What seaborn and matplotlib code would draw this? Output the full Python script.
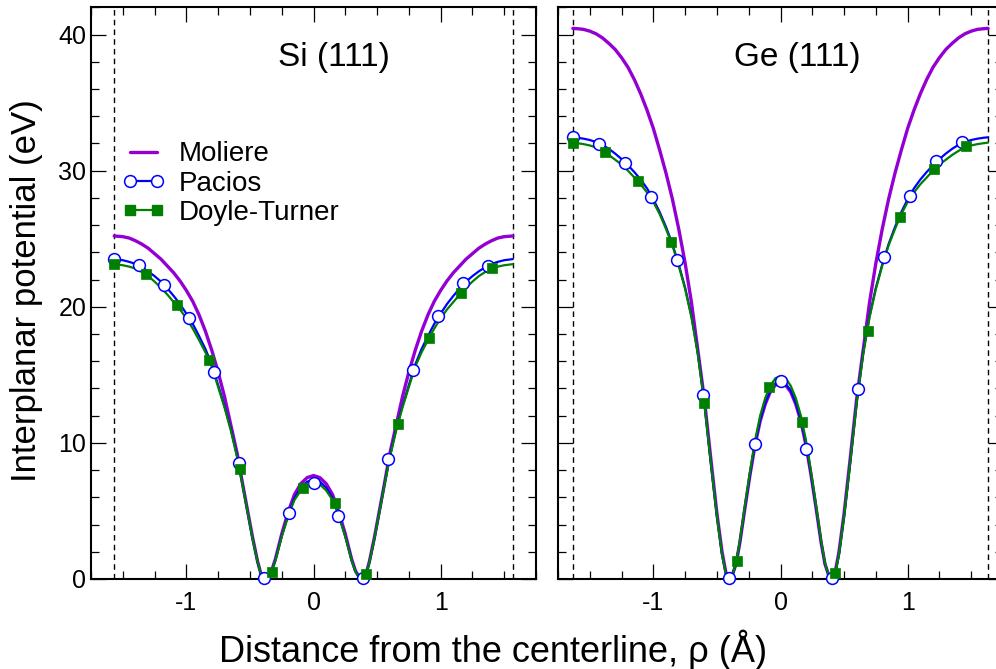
import seaborn as sns
import matplotlib.pyplot as plt
from matplotlib.lines import Line2D
from matplotlib.ticker import MultipleLocator

sns.set_theme(style="ticks")
plt.rcParams['font.family'] = ['Liberation Sans', 'DejaVu Sans']
plt.rcParams['axes.unicode_minus'] = False
for k in ['axes.edgecolor', 'xtick.color', 'ytick.color', 'text.color', 'axes.labelcolor']:
    plt.rcParams[k] = 'black'

PURPLE = '#9400d3'
BLUE = '#0000ff'
GREEN = '#008000'

# ---- Si (111) ----
si_x = [-1.5675, -1.5, -1.45, -1.4, -1.35, -1.3, -1.25, -1.2, -1.15, -1.1, -1.05, -1.0,
        -0.95, -0.9, -0.85, -0.8, -0.75, -0.7, -0.65, -0.6, -0.56, -0.52, -0.48, -0.44,
        -0.41, -0.392, -0.36, -0.33, -0.3, -0.25, -0.2, -0.15, -0.1, -0.05, 0,
        0.05, 0.1, 0.15, 0.2, 0.25, 0.3, 0.33, 0.36, 0.392, 0.41, 0.44, 0.48, 0.52,
        0.56, 0.6, 0.65, 0.7, 0.75, 0.8, 0.85, 0.9, 0.95, 1.0, 1.05, 1.1, 1.15, 1.2,
        1.25, 1.3, 1.35, 1.4, 1.45, 1.5, 1.5675]
si_moliere = [25.2, 25.15, 25.05, 24.85, 24.6, 24.3, 23.9, 23.5, 23.0, 22.5, 21.9, 21.2,
              20.4, 19.4, 18.2, 16.8, 15.2, 13.4, 11.3, 9.2, 7.1, 5.1, 3.1, 1.3,
              0.25, 0, 0.13, 0.6, 1.45, 3.3, 4.9, 6.2, 7.0, 7.45, 7.6,
              7.45, 7.0, 6.2, 4.9, 3.3, 1.45, 0.6, 0.13, 0, 0.25, 1.3, 3.1, 5.1,
              7.1, 9.2, 11.3, 13.4, 15.2, 16.8, 18.2, 19.4, 20.4, 21.2, 21.9, 22.5, 23.0, 23.5,
              23.9, 24.3, 24.6, 24.85, 25.05, 25.15, 25.2]
si_pacios = [23.5, 23.42, 23.3, 23.15, 22.9, 22.6, 22.25, 21.85, 21.35, 20.8, 20.2, 19.5,
             18.75, 17.85, 16.9, 15.75, 14.25, 12.7, 11.0, 9.0, 7.05, 5.0, 3.0, 1.25,
             0.25, 0, 0.12, 0.55, 1.4, 3.15, 4.65, 5.95, 6.7, 7.15, 7.3,
             7.15, 6.7, 5.95, 4.65, 3.15, 1.4, 0.55, 0.12, 0, 0.25, 1.25, 3.0, 5.0,
             7.05, 9.0, 11.0, 12.7, 14.25, 15.75, 16.9, 17.85, 18.75, 19.5, 20.2, 20.8, 21.35, 21.85,
             22.25, 22.6, 22.9, 23.15, 23.3, 23.42, 23.5]
si_doyle = [23.13, 23.05, 22.95, 22.8, 22.55, 22.25, 21.85, 21.4, 20.9, 20.35, 19.8, 19.15,
            18.4, 17.55, 16.65, 15.6, 14.1, 12.6, 10.9, 8.9, 7.0, 5.0, 3.0, 1.25,
            0.25, 0, 0.12, 0.55, 1.35, 3.1, 4.6, 5.8, 6.5, 6.95, 7.1,
            6.95, 6.5, 5.8, 4.6, 3.1, 1.35, 0.55, 0.12, 0, 0.25, 1.25, 3.0, 5.0,
            7.0, 8.9, 10.9, 12.6, 14.1, 15.6, 16.65, 17.55, 18.4, 19.15, 19.8, 20.35, 20.9, 21.4,
            21.85, 22.25, 22.55, 22.8, 22.95, 23.05, 23.13]
si_pac_mx = [-1.5675, -1.371, -1.176, -0.98, -0.784, -0.588, -0.392, -0.196, 0,
             0.196, 0.392, 0.588, 0.784, 0.98, 1.176, 1.371]
si_pac_my = [23.5, 23.05, 21.6, 19.14, 15.22, 8.49, 0.05, 4.82, 7.07,
             4.63, 0.05, 8.79, 15.35, 19.31, 21.71, 23.0]
si_dt_mx = [-1.5675, -1.318, -1.073, -0.824, -0.579, -0.329, -0.081, 0.17, 0.415,
            0.663, 0.912, 1.163, 1.4]
si_dt_my = [23.13, 22.39, 20.12, 16.08, 8.08, 0.54, 6.7, 5.56, 0.37,
            11.38, 17.67, 21.02, 22.83]

# ---- Ge (111) ----
ge_x = [-1.633, -1.6, -1.55, -1.5, -1.45, -1.4, -1.35, -1.3, -1.25, -1.2, -1.15, -1.1,
        -1.05, -1.0, -0.95, -0.9, -0.85, -0.8, -0.75, -0.7, -0.65, -0.6, -0.55, -0.5,
        -0.46, -0.43, -0.408, -0.38, -0.35, -0.32, -0.28, -0.24, -0.2, -0.16, -0.12, -0.08,
        -0.04, 0, 0.04, 0.08, 0.12, 0.16, 0.2, 0.24, 0.28, 0.32, 0.35, 0.38, 0.408,
        0.43, 0.46, 0.5, 0.55, 0.6, 0.65, 0.7, 0.75, 0.8, 0.85, 0.9, 0.95, 1.0, 1.05,
        1.1, 1.15, 1.2, 1.25, 1.3, 1.35, 1.4, 1.45, 1.5, 1.55, 1.6, 1.633]
ge_moliere = [40.45, 40.43, 40.38, 40.25, 40.05, 39.75, 39.35, 38.9, 38.3, 37.6, 36.7, 35.65,
              34.45, 33.1, 31.5, 29.8, 27.9, 25.7, 23.2, 20.3, 16.8, 13.3, 9.0, 4.8,
              2.0, 0.5, 0, 0.25, 1.1, 2.65, 5.2, 7.65, 9.85, 11.6, 12.85, 13.75,
              14.25, 14.4, 14.25, 13.75, 12.85, 11.6, 9.85, 7.65, 5.2, 2.65, 1.1, 0.25, 0,
              0.5, 2.0, 4.8, 9.0, 13.3, 16.8, 20.3, 23.2, 25.7, 27.9, 29.8, 31.5, 33.1, 34.45,
              35.65, 36.7, 37.6, 38.3, 38.9, 39.35, 39.75, 40.05, 40.25, 40.38, 40.43, 40.45]
ge_pacios = [32.45, 32.42, 32.35, 32.25, 32.1, 31.9, 31.6, 31.25, 30.85, 30.4, 29.9, 29.35,
             28.7, 27.9, 26.95, 25.85, 24.6, 23.1, 21.4, 19.3, 16.6, 13.1, 8.7, 4.6,
             1.8, 0.4, 0, 0.25, 1.1, 2.7, 5.25, 7.7, 9.95, 11.7, 12.95, 13.85,
             14.35, 14.5, 14.35, 13.85, 12.95, 11.7, 9.95, 7.7, 5.25, 2.7, 1.1, 0.25, 0,
             0.4, 1.8, 4.6, 8.7, 13.1, 16.6, 19.3, 21.4, 23.1, 24.6, 25.85, 26.95, 27.9, 28.7,
             29.35, 29.9, 30.4, 30.85, 31.25, 31.6, 31.9, 32.1, 32.25, 32.35, 32.42, 32.45]
ge_doyle = [32.06, 32.02, 31.95, 31.85, 31.7, 31.45, 31.15, 30.8, 30.45, 30.0, 29.5, 29.0,
            28.4, 27.7, 26.8, 25.7, 24.5, 23.0, 21.3, 19.2, 16.5, 13.0, 8.7, 4.6,
            1.8, 0.4, 0, 0.25, 1.15, 2.8, 5.4, 7.9, 10.2, 12.0, 13.3, 14.2,
            14.75, 14.9, 14.75, 14.2, 13.3, 12.0, 10.2, 7.9, 5.4, 2.8, 1.15, 0.25, 0,
            0.4, 1.8, 4.6, 8.7, 13.0, 16.5, 19.2, 21.3, 23.0, 24.5, 25.7, 26.8, 27.7, 28.4,
            29.0, 29.5, 30.0, 30.45, 30.8, 31.15, 31.45, 31.7, 31.85, 31.95, 32.02, 32.06]
ge_pac_mx = [-1.633, -1.429, -1.225, -1.021, -0.817, -0.612, -0.408, -0.204, 0,
             0.204, 0.408, 0.612, 0.817, 1.021, 1.225, 1.429]
ge_pac_my = [32.48, 31.99, 30.59, 28.07, 23.42, 13.51, 0.05, 9.91, 14.54,
             9.54, 0.05, 13.95, 23.62, 28.14, 30.69, 32.1]
ge_dt_mx = [-1.635, -1.378, -1.12, -0.861, -0.604, -0.346, -0.087, 0.171, 0.428,
            0.688, 0.943, 1.207, 1.457]
ge_dt_my = [32.06, 31.37, 29.22, 24.77, 12.95, 1.32, 14.07, 11.5, 0.42,
            18.21, 26.56, 30.1, 31.79]

labels = ['Moliere', 'Pacios', 'Doyle-Turner']


def panel(ax, x, mol, pac, dt, pmx, pmy, dmx, dmy, edge, title, tx):
    sns.lineplot(x=x, y=mol, ax=ax, color=PURPLE, lw=2.4, sort=False, estimator=None)
    sns.lineplot(x=x, y=pac, ax=ax, color=BLUE, lw=1.6, sort=False, estimator=None)
    sns.lineplot(x=x, y=dt, ax=ax, color=GREEN, lw=1.6, sort=False, estimator=None)
    sns.scatterplot(x=pmx, y=pmy, ax=ax, marker='o', s=72, color='white',
                    edgecolor=BLUE, linewidth=1.1, zorder=4, clip_on=False)
    sns.scatterplot(x=dmx, y=dmy, ax=ax, marker='s', s=60, color=GREEN,
                    edgecolor=GREEN, linewidth=0.5, zorder=5, clip_on=False)
    for e in (-edge, edge):
        ax.axvline(e, color='black', ls=(0, (4, 3)), lw=1.0, zorder=1)
    ax.text(tx, 38.3, title, ha='center', va='center', fontsize=24)
    ax.set_xlim(-1.75, 1.75)
    ax.set_ylim(0, 42)
    ax.xaxis.set_major_locator(MultipleLocator(1))
    ax.xaxis.set_minor_locator(MultipleLocator(0.25))
    ax.yaxis.set_major_locator(MultipleLocator(10))
    ax.yaxis.set_minor_locator(MultipleLocator(2))
    ax.tick_params(which='both', direction='in', top=True, right=True,
                   width=0.9, labelsize=18)
    ax.tick_params(which='major', length=11)
    ax.tick_params(which='minor', length=5.5)
    ax.tick_params(axis='x', pad=9)
    for s in ax.spines.values():
        s.set_linewidth(1.5)
    ax.set_xlabel('')
    ax.set_ylabel('')


fig = plt.figure(figsize=(9.96, 6.69), dpi=100)
ax1 = fig.add_axes([91 / 996, 90 / 669, 445 / 996, 571.7 / 669])
ax2 = fig.add_axes([558 / 996, 90 / 669, 445 / 996, 571.7 / 669])

panel(ax1, si_x, si_moliere, si_pacios, si_doyle, si_pac_mx, si_pac_my,
      si_dt_mx, si_dt_my, 1.5675, 'Si (111)', 0.16)
panel(ax2, ge_x, ge_moliere, ge_pacios, ge_doyle, ge_pac_mx, ge_pac_my,
      ge_dt_mx, ge_dt_my, 1.633, 'Ge (111)', 0.134)
ax2.tick_params(labelleft=False)

handles = [
    Line2D([], [], color=PURPLE, lw=2.4),
    Line2D([], [], color=BLUE, lw=1.6, marker='o', ms=8.5, mfc='white', mec=BLUE, mew=1.1),
    Line2D([], [], color=GREEN, lw=1.6, marker='s', ms=7.7),
]
ax1.legend(handles, labels, loc='upper left', bbox_to_anchor=(0.045, 0.785),
           frameon=False, numpoints=2, handlelength=1.55, handletextpad=0.5,
           labelspacing=0.12, fontsize=20, borderaxespad=0)

fig.text(0.027, 0.565, 'Interplanar potential (eV)', rotation=90,
         ha='center', va='center', fontsize=25)
fig.text(0.495, 0.029, 'Distance from the centerline, \u03c1 (\u00c5)',
         ha='center', va='center', fontsize=26)

fig.savefig('out.png', dpi=100)
